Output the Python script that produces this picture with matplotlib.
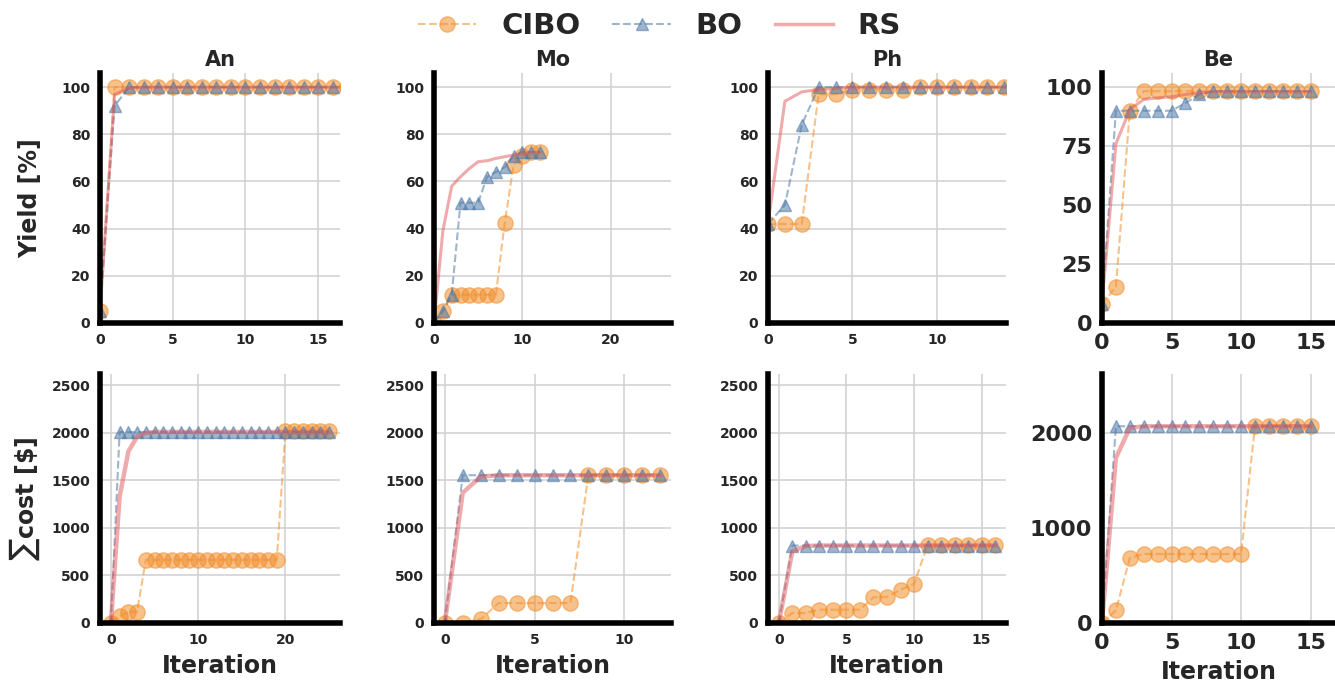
import matplotlib
matplotlib.use("Agg")
import matplotlib.pyplot as plt
from matplotlib.ticker import MultipleLocator
from matplotlib.lines import Line2D

# ---------------- data ----------------
panels = ["An", "Mo", "Ph", "Be"]

an_cibo_yield = [5, 100, 100, 100, 100, 100, 100, 100, 100, 100, 100, 100, 100,
                 100, 100, 100, 100, 100, 100, 100, 100, 100, 100, 100, 100, 100]
an_bo_yield = [5, 92, 100, 100, 100, 100, 100, 100, 100, 100, 100, 100, 100,
               100, 100, 100, 100, 100, 100, 100, 100, 100, 100, 100, 100, 100]
an_rs_yield = [5, 97, 99.5, 100, 100, 100, 100, 100, 100, 100, 100, 100, 100,
               100, 100, 100, 100, 100, 100, 100, 100, 100, 100, 100, 100, 100]
an_cibo_cost = [5, 70, 115, 120, 665, 665, 665, 665, 665, 665, 665, 665, 665,
                665, 665, 665, 665, 665, 665, 665, 2015, 2015, 2015, 2015, 2015, 2015]
an_bo_cost = [0, 2010, 2010, 2010, 2010, 2010, 2010, 2010, 2010, 2010, 2010, 2010, 2010,
              2010, 2010, 2010, 2010, 2010, 2010, 2010, 2010, 2010, 2010, 2010, 2010, 2010]
an_rs_cost = [0, 1330, 1805, 1960, 2000, 2010, 2010, 2010, 2010, 2010, 2010, 2010, 2010,
              2010, 2010, 2010, 2010, 2010, 2010, 2010, 2010, 2010, 2010, 2010, 2010, 2010]

mo_cibo_yield = [0, 5, 12, 12, 12, 12, 12, 12, 42.5, 67, 71, 72.5, 72.5]
mo_bo_yield = [0, 5, 12, 51, 51, 51, 62, 64, 66, 71, 72.5, 72.5, 72.5]
mo_rs_yield = [0, 39, 58, 62, 65.5, 68.4, 68.8, 69.8, 70.5, 71.2, 71.9, 72.2, 72.5]
mo_cibo_cost = [0, 5, 40, 210, 210, 210, 210, 210, 1560, 1560, 1560, 1560, 1560]
mo_bo_cost = [0, 1555, 1555, 1555, 1555, 1555, 1555, 1555, 1555, 1555, 1555, 1555, 1555]
mo_rs_cost = [0, 1370, 1540, 1555, 1555, 1555, 1555, 1555, 1555, 1555, 1555, 1555, 1555]

ph_cibo_yield = [42, 42, 42, 97, 97, 99, 99, 99, 99, 100, 100, 100, 100, 100, 100, 100, 100]
ph_bo_yield = [42, 50, 84, 100, 100, 100, 100, 100, 100, 100, 100, 100, 100, 100, 100, 100, 100]
ph_rs_yield = [42, 94, 98, 99, 99.5, 100, 100, 100, 100, 100, 100, 100, 100, 100, 100, 100, 100]
ph_cibo_cost = [0, 105, 105, 140, 140, 140, 140, 270, 275, 350, 412, 820, 820, 820, 820, 820, 820]
ph_bo_cost = [0, 815, 815, 815, 815, 815, 815, 815, 815, 815, 815, 815, 815, 815, 815, 815, 815]
ph_rs_cost = [0, 755, 810, 815, 815, 815, 815, 815, 815, 815, 815, 815, 815, 815, 815, 815, 815]

be_cibo_yield = [8, 15.3, 90, 98.3, 98.3, 98.3, 98.3, 98.3, 98.3, 98.3, 98.3, 98.3, 98.3, 98.3, 98.3, 98.3]
be_bo_yield = [8, 90, 90, 90, 90, 90, 93.3, 96.9, 98.3, 98.3, 98.3, 98.3, 98.3, 98.3, 98.3, 98.3]
be_rs_yield = [8, 76, 90.5, 94.8, 95.5, 95.9, 96.9, 97.6, 98, 98, 98, 98, 98, 98, 98, 98]
be_cibo_cost = [0, 133, 684, 726, 726, 726, 726, 726, 726, 726, 726, 2075, 2075, 2075, 2075, 2075]
be_bo_cost = [0, 2070, 2070, 2070, 2070, 2070, 2070, 2070, 2070, 2070, 2070, 2070, 2070, 2070, 2070, 2070]
be_rs_cost = [0, 1737, 2053, 2070, 2070, 2070, 2070, 2070, 2070, 2070, 2070, 2070, 2070, 2070, 2070, 2070]

yield_data = {
    "An": (an_cibo_yield, an_bo_yield, an_rs_yield),
    "Mo": (mo_cibo_yield, mo_bo_yield, mo_rs_yield),
    "Ph": (ph_cibo_yield, ph_bo_yield, ph_rs_yield),
    "Be": (be_cibo_yield, be_bo_yield, be_rs_yield),
}
cost_data = {
    "An": (an_cibo_cost, an_bo_cost, an_rs_cost),
    "Mo": (mo_cibo_cost, mo_bo_cost, mo_rs_cost),
    "Ph": (ph_cibo_cost, ph_bo_cost, ph_rs_cost),
    "Be": (be_cibo_cost, be_bo_cost, be_rs_cost),
}
method_labels = ["CIBO", "BO", "RS"]

# ---------------- style ----------------
plt.rcParams["font.family"] = ["DejaVu Sans"]
plt.rcParams["font.weight"] = "bold"
plt.rcParams["text.color"] = "#262626"
plt.rcParams["axes.labelcolor"] = "#262626"
plt.rcParams["xtick.color"] = "#262626"
plt.rcParams["ytick.color"] = "#262626"
plt.rcParams["mathtext.default"] = "bf"

C_CIBO = "#F28E2B"
C_BO = "#4E79A7"
C_RS = "#E15759"

W, H = 1335, 685
fig = plt.figure(figsize=(W / 100, H / 100), dpi=100)


def box(l, r, t, b):
    return [l / W, 1 - b / H, (r - l) / W, (b - t) / H]


cols = [(100, 340), (434, 671), (768, 1006), (1102, 1335)]
rows = [(73, 323), (374, 623)]

top_xlim = {"An": (0, 16.5), "Mo": (0, 26.8), "Ph": (0, 14.1), "Be": (0, 16.75)}
bot_xlim = {"An": (-1.25, 26.25), "Mo": (-0.6, 12.6), "Ph": (-0.8, 16.8), "Be": (0, 16.75)}
top_xstep = {"An": 5, "Mo": 10, "Ph": 5, "Be": 5}
bot_xstep = {"An": 10, "Mo": 5, "Ph": 5, "Be": 5}


def style_ax(ax, big):
    for s in ["top", "right"]:
        ax.spines[s].set_visible(False)
    for s in ["left", "bottom"]:
        ax.spines[s].set_color("black")
        ax.spines[s].set_linewidth(4)
        ax.spines[s].set_zorder(5)
    ax.set_facecolor("white")
    ax.grid(True, color="#d0d0d0", linewidth=1.1)
    ax.set_axisbelow(True)
    ax.tick_params(length=0, pad=7, labelsize=16 if big else 10)
    for lab in ax.get_xticklabels() + ax.get_yticklabels():
        lab.set_fontweight("bold")


def draw(ax, series, rs_lw):
    cibo, bo, rs = series
    ax.plot(range(len(cibo)), cibo, linestyle="--", marker="o", color=C_CIBO,
            alpha=0.55, markersize=11, linewidth=1.5, zorder=3)
    ax.plot(range(len(bo)), bo, linestyle="--", marker="^", color=C_BO,
            alpha=0.55, markersize=9, linewidth=1.5, zorder=3)
    ax.plot(range(len(rs)), rs, linestyle="-", color=C_RS,
            alpha=0.5, linewidth=rs_lw, zorder=4)


for j, name in enumerate(panels):
    big = name == "Be"
    l, r = cols[j]
    # top row: yield
    ax = fig.add_axes(box(l, r, rows[0][0], rows[0][1]))
    draw(ax, yield_data[name], 2.2)
    ax.set_xlim(*top_xlim[name])
    ax.set_ylim(0, 106)
    ax.xaxis.set_major_locator(MultipleLocator(top_xstep[name]))
    ax.yaxis.set_major_locator(MultipleLocator(25 if big else 20))
    style_ax(ax, big)
    ax.set_title(name, fontsize=15, fontweight="bold", pad=5)
    if j == 0:
        ax.set_ylabel("Yield [%]", fontsize=17, fontweight="bold")
        ax.yaxis.set_label_coords(-0.242, 0.5)

    # bottom row: cost
    ax2 = fig.add_axes(box(l, r, rows[1][0], rows[1][1]))
    draw(ax2, cost_data[name], 3.2)
    ax2.set_xlim(*bot_xlim[name])
    ax2.set_ylim(0, 2620)
    ax2.xaxis.set_major_locator(MultipleLocator(bot_xstep[name]))
    ax2.yaxis.set_major_locator(MultipleLocator(1000 if big else 500))
    style_ax(ax2, big)
    ax2.set_xlabel("Iteration", fontsize=17, fontweight="bold", labelpad=5)
    if j == 0:
        ax2.set_ylabel(r"$\sum$cost [\$]", fontsize=17, fontweight="bold")
        ax2.yaxis.set_label_coords(-0.242, 0.5)

handles = [
    Line2D([], [], linestyle="--", marker="o", color=C_CIBO, alpha=0.55, markersize=11, linewidth=1.5),
    Line2D([], [], linestyle="--", marker="^", color=C_BO, alpha=0.55, markersize=9, linewidth=1.5),
    Line2D([], [], linestyle="-", color=C_RS, alpha=0.5, linewidth=2.5),
]
fig.legend(handles, method_labels, loc="center", bbox_to_anchor=(0.494, 0.962), ncol=3,
           frameon=False, prop={"size": 21, "weight": "bold"}, handlelength=2.0,
           handletextpad=0.85, columnspacing=1.1)

fig.savefig("out.png", dpi=100)
